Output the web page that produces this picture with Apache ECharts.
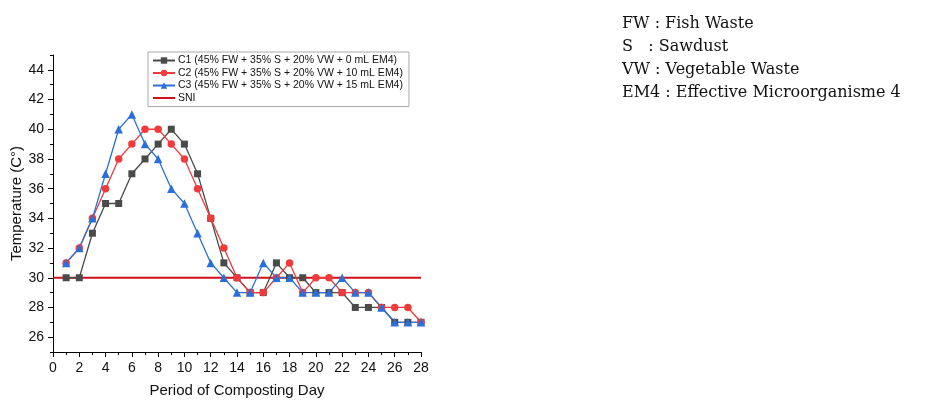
<!DOCTYPE html>
<html>
<head>
<meta charset="utf-8">
<script src="https://cdn.jsdelivr.net/npm/echarts@6/dist/echarts.min.js"></script>
<style>html,body{margin:0;padding:0;background:#fff;}#c{width:935px;height:400px;}</style>
</head>
<body>
<div id="c"></div>
<script>
const days = [1,2,3,4,5,6,7,8,9,10,11,12,13,14,15,16,17,18,19,20,21,22,23,24,25,26,27,28];
const c1 = [30,30,33,35,35,37,38,39,40,39,37,34,31,30,29,29,31,30,30,29,29,29,28,28,28,27,27,27];
const c2 = [31,32,34,36,38,39,40,40,39,38,36,34,32,30,29,29,30,31,29,30,30,29,29,29,28,28,28,27];
const c3 = [31,32,34,37,40,41,39,38,36,35,33,31,30,29,29,31,30,30,29,29,29,30,29,29,28,27,27,27];
const sniValue = 30;
const sniRange = [0, 28];
const yTicks = [26,28,30,32,34,36,38,40,42,44];
const names = [
  'C1 (45% FW + 35% S + 20% VW + 0 mL EM4)',
  'C2 (45% FW + 35% S + 20% VW + 10 mL EM4)',
  'C3 (45% FW + 35% S + 20% VW + 15 mL EM4)',
  'SNI'
];
const notes = ['FW : Fish Waste', 'S   : Sawdust', 'VW : Vegetable Waste', 'EM4 : Effective Microorganisme 4'];

const chart = echarts.init(document.getElementById('c'));
const font = 'Liberation Sans, Arial, sans-serif';
const pair = arr => days.map((d, i) => [d, arr[i]]);

chart.setOption({
  animation: false,
  backgroundColor: '#fff',
  grid: { left: 53, right: 514, top: 55, bottom: 48, containLabel: false, outerBoundsMode: 'none' },
  legend: {
    orient: 'vertical', left: 148, top: 52,
    itemWidth: 22, itemHeight: 8, itemGap: 1.5,
    padding: [3, 6, 3, 4],
    borderColor: '#aaa', borderWidth: 1, backgroundColor: '#fff',
    textStyle: { fontFamily: font, fontSize: 10.5, color: '#111', padding: [0, 0, 0, -2] },
    data: [names[0], names[1], names[2], { name: names[3], itemStyle: { opacity: 0 } }]
  },
  xAxis: {
    type: 'value', min: 0, max: 28, interval: 2,
    name: 'Period of Composting Day', nameLocation: 'middle', nameGap: 31,
    nameTextStyle: { fontFamily: font, fontSize: 15, color: '#111' },
    axisLine: { lineStyle: { color: '#000', width: 1 } },
    axisTick: { length: 5, lineStyle: { color: '#000' } },
    minorTick: { show: true, splitNumber: 2, length: 3, lineStyle: { color: '#000' } },
    axisLabel: { fontFamily: font, fontSize: 14, color: '#111', margin: 9 },
    splitLine: { show: false }
  },
  yAxis: [{
    type: 'value', min: 25, max: 45, interval: 1,
    name: 'Temperature (C°)', nameLocation: 'middle', nameGap: 28,
    nameTextStyle: { fontFamily: font, fontSize: 15, color: '#111' },
    axisLine: { show: true, lineStyle: { color: '#000', width: 1 } },
    axisTick: { show: true, length: 5, customValues: yTicks, lineStyle: { color: '#000' } },
    axisLabel: { fontFamily: font, fontSize: 14, color: '#111', margin: 9, customValues: yTicks },
    splitLine: { show: false }
  }, {
    type: 'value', min: 25, max: 45, interval: 1, position: 'left',
    axisLine: { show: false },
    axisTick: { show: true, length: 3, lineStyle: { color: '#000' } },
    axisLabel: { show: false },
    splitLine: { show: false }
  }],
  series: [
    {
      name: names[0], type: 'line', data: pair(c1),
      symbol: 'rect', symbolSize: 7,
      lineStyle: { color: '#4a4a4a', width: 1.3 },
      itemStyle: { color: '#4a4a4a' }
    },
    {
      name: names[1], type: 'line', data: pair(c2),
      symbol: 'circle', symbolSize: 7.5,
      lineStyle: { color: '#ef3b3b', width: 1.3 },
      itemStyle: { color: '#ef3b3b' }
    },
    {
      name: names[2], type: 'line', data: pair(c3),
      symbol: 'triangle', symbolSize: 8.5,
      lineStyle: { color: '#2b6fd8', width: 1.3 },
      itemStyle: { color: '#2b6fd8' }
    },
    {
      name: names[3], type: 'line', data: sniRange.map(x => [x, sniValue]),
      symbol: 'none', z: 1,
      lineStyle: { color: '#d0101a', width: 1.8 },
      itemStyle: { color: '#d0101a' }
    }
  ],
  graphic: notes.map((t, i) => ({
    type: 'text', left: 622, top: 16 + i * 23,
    style: { text: t, font: '16px "DejaVu Serif", serif', fill: '#111' }
  }))
});
</script>
</body>
</html>
